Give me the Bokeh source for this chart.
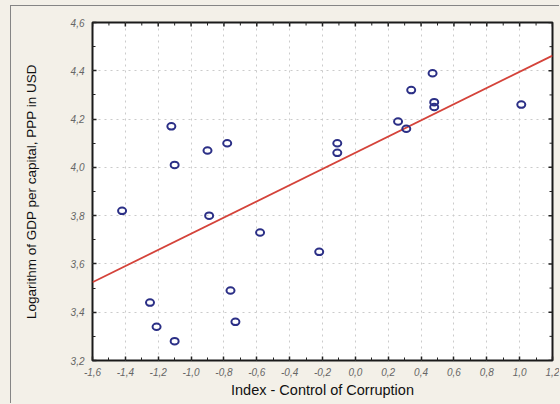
import math
from bokeh.plotting import figure
from bokeh.layouts import column
from bokeh.models import (LinearAxis, CustomJSTickFormatter, FixedTicker, Range1d)
from bokeh.embed import file_html
from bokeh.resources import INLINE

# Control of Corruption index vs. log10 GDP per capita (PPP, USD)
corruption_index = [0.47, 0.34, 0.48, 0.48, 1.01, 0.26, 0.31, -1.12, -0.78,
                    -0.11, -0.11, -0.90, -1.10, -1.42, -0.89, -0.58, -0.22,
                    -0.76, -1.25, -1.21, -0.73, -1.10]
log_gdp = [4.39, 4.32, 4.27, 4.25, 4.26, 4.19, 4.16, 4.17, 4.10,
           4.10, 4.06, 4.07, 4.01, 3.82, 3.80, 3.73, 3.65,
           3.49, 3.44, 3.34, 3.36, 3.28]

# fitted regression line end points
fit_x = [-1.6, 1.2]
fit_y = [3.524, 4.463]

# axis ticks
x_ticks = [-1.6, -1.4, -1.2, -1.0, -0.8, -0.6, -0.4, -0.2, 0.0,
           0.2, 0.4, 0.6, 0.8, 1.0, 1.2]
x_minor = [-1.5, -1.3, -1.1, -0.9, -0.7, -0.5, -0.3, -0.1,
           0.1, 0.3, 0.5, 0.7, 0.9, 1.1]
y_ticks = [3.2, 3.4, 3.6, 3.8, 4.0, 4.2, 4.4, 4.6]
y_minor = [3.3, 3.5, 3.7, 3.9, 4.1, 4.3, 4.5]

BG = "#f3f0e8"
TICK_GREY = "#666666"
X_MIN, X_MAX = x_ticks[0], x_ticks[-1]
Y_MIN, Y_MAX = y_ticks[0], y_ticks[-1]

p = figure(width=549, height=398, output_backend="svg", toolbar_location=None,
           x_range=Range1d(X_MIN, X_MAX), y_range=Range1d(Y_MIN, Y_MAX),
           min_border_left=81, min_border_top=16, min_border_right=8,
           min_border_bottom=44,
           background_fill_color="white", border_fill_color=BG,
           x_axis_location=None, y_axis_location=None,
           margin=(5, 0, 0, 10),
           styles={"border-left": "1px solid #858585",
                   "border-top": "1px solid #858585"})

p.outline_line_color = "#1a1a1a"
p.outline_line_width = 2

comma_fmt = CustomJSTickFormatter(code="return tick.toFixed(1).replace('.', ',');")


def style_axis(ax):
    ax.axis_line_color = None
    ax.major_tick_in = 4
    ax.major_tick_out = 0
    ax.minor_tick_in = 3
    ax.minor_tick_out = 0
    ax.major_tick_line_color = "#222222"
    ax.minor_tick_line_color = "#222222"
    ax.major_tick_line_width = 1.5
    ax.minor_tick_line_width = 1
    ax.formatter = comma_fmt
    ax.major_label_text_font = "Liberation Sans"
    ax.major_label_text_font_size = "10px"
    ax.major_label_text_font_style = "italic"
    ax.major_label_text_color = TICK_GREY
    ax.axis_label_text_font = "Liberation Sans"
    ax.axis_label_text_font_style = "normal"
    ax.axis_label_text_color = "#111111"


xb = LinearAxis(ticker=FixedTicker(ticks=x_ticks, minor_ticks=x_minor),
                axis_label="Index - Control of Corruption")
style_axis(xb)
xb.major_label_standoff = 7
xb.axis_label_standoff = 3
xb.axis_label_text_font_size = "14.5px"
p.add_layout(xb, "below")

yl = LinearAxis(ticker=FixedTicker(ticks=y_ticks, minor_ticks=y_minor),
                axis_label="Logarithm of GDP per capital, PPP in USD")
style_axis(yl)
yl.major_label_standoff = 8
yl.axis_label_standoff = 29
yl.axis_label_text_font_size = "13.5px"
p.add_layout(yl, "left")

# dotted grid at the major ticks
p.xgrid.ticker = FixedTicker(ticks=x_ticks)
p.ygrid.ticker = FixedTicker(ticks=y_ticks)
for g in (p.xgrid, p.ygrid):
    g.grid_line_color = "#cbcbcb"
    g.grid_line_dash = "dotted"
    g.grid_line_width = 1

# inward tick marks along the top and right frame edges (half of each dash is clipped)
p.scatter(x_ticks, [Y_MAX] * len(x_ticks), marker="dash", angle=math.pi / 2,
          size=8, line_color="#222222", line_width=1.5)
p.scatter(x_minor, [Y_MAX] * len(x_minor), marker="dash", angle=math.pi / 2,
          size=6, line_color="#222222", line_width=1)
p.scatter([X_MAX] * len(y_ticks), y_ticks, marker="dash",
          size=8, line_color="#222222", line_width=1.5)
p.scatter([X_MAX] * len(y_minor), y_minor, marker="dash",
          size=6, line_color="#222222", line_width=1)

p.line(fit_x, fit_y, line_color="#d4433a", line_width=1.8)

p.ellipse(corruption_index, log_gdp, width=8, height=6.5,
          width_units="screen", height_units="screen",
          fill_color=None, line_color="#2b2f86", line_width=2)

page = column(p, width=560, height=404, styles={"background-color": BG})

open("out.html", "w").write(file_html(page, INLINE))
